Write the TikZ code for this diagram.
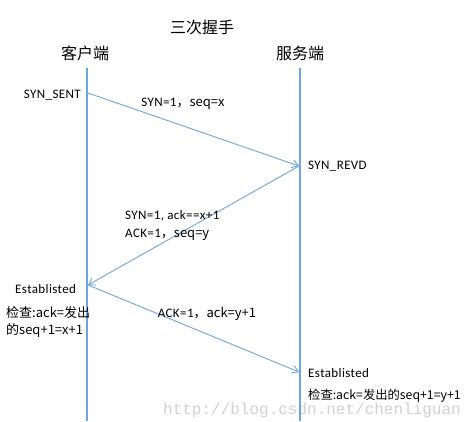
\documentclass[tikz,border=0pt]{standalone}
\usepackage{fontspec}
\setmainfont{Carlito}[LetterSpace=3]
\newfontfamily\cjk{Noto Sans CJK SC}
\newfontfamily\wmfont{Liberation Mono}
\usetikzlibrary{arrows.meta}
\definecolor{lineblue}{RGB}{110,165,220}
\tikzset{
  lane/.style={draw=lineblue, line width=1.1pt},
  msg/.style={draw=lineblue, line width=0.9pt, -{Straight Barb[length=6pt,width=8pt]}},
  txt/.style={inner sep=0pt, font=\fontsize{13}{15}\selectfont},
  head/.style={inner sep=0pt, font=\fontsize{16}{18}\cjk},
}
\begin{document}
\begin{tikzpicture}[x=1pt,y=-1pt]
\useasboundingbox[fill=white] (0,0) rectangle (468,421);
% watermark
\node[inner sep=0pt, text=black!18, font=\fontsize{16}{18}\wmfont] (wm) at (312,410) {http://blog.csdn.net/chenliguan};
% headings
\node[head] (title) at (202,27) {三次握手};
\node[head] (client) at (85,53) {客户端};
\node[head] (server) at (300,53) {服务端};
% lifelines
\coordinate (c0) at (87,68); \coordinate (c1) at (87,421);
\coordinate (s0) at (300,68); \coordinate (s1) at (300,421);
\draw[lane] (c0) -- (c1);
\draw[lane] (s0) -- (s1);
% message points
\coordinate (a1) at (88,93);
\coordinate (b1) at (299,166);
\coordinate (a2) at (88,285);
\coordinate (b2) at (299,372);
\draw[msg] (a1) -- (b1);
\draw[msg] (b1) -- (a2);
\draw[msg] (a2) -- (b2);
% labels
\node[txt, anchor=east] (synsent) at (81,95) {SYN\_SENT};
\node[txt] (m1) at (183,104) {SYN=1\cjk{，}seq=x};
\node[txt, anchor=west] (synrevd) at (308,166) {SYN\_REVD};
\node[txt, anchor=west] (m2a) at (125,216) {SYN=1, ack==x+1};
\node[txt, anchor=west] (m2b) at (125,235) {ACK=1\cjk{，}seq=y};
\node[txt, anchor=west] (est1) at (15,289) {Establisted};
\node[txt, anchor=west] (chk1a) at (6,313) {\cjk{检查}:ack=\cjk{发出}};
\node[txt, anchor=west] (chk1b) at (6,330) {\cjk{的}seq+1=x+1};
\node[txt] (m3) at (207,314) {ACK=1\cjk{，}ack=y+1};
\node[txt, anchor=west] (est2) at (308,373) {Establisted};
\node[txt, anchor=west, font=\fontsize{12.3}{15}\selectfont] (chk2) at (308,396) {\cjk{检查}:ack=\cjk{发出的}seq+1=y+1};
\end{tikzpicture}
\end{document}
